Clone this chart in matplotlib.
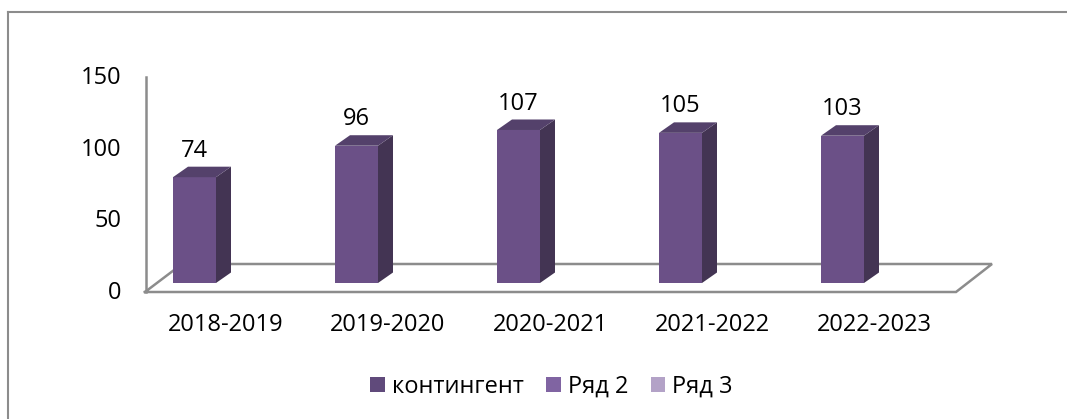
import matplotlib
matplotlib.use("Agg")
import matplotlib.pyplot as plt
from matplotlib.patches import Polygon, Patch
from matplotlib.lines import Line2D

# ---- data ----
categories = ["2018-2019", "2019-2020", "2020-2021", "2021-2022", "2022-2023"]
values = [74, 96, 107, 105, 103]
yticks = [0, 50, 100, 150]
legend_labels = ["контингент", "Ряд 2", "Ряд 3"]

# ---- style ----
FONT = ["Open Sans", "DejaVu Sans"]
FS = 17
front_c = "#6B5087"
side_c = "#433453"
top_c = "#54416B"
legend_colors = ["#604A7B", "#8064A2", "#B3A2C7"]
grid_c = "#8C8C8C"

W, H = 1067, 419
fig = plt.figure(figsize=(W / 100, H / 100), dpi=100)
ax = fig.add_axes([0, 0, 1, 1])

# pixel <-> data mapping (layout only)
X0, DX = 194.5, 162.0   # pixel x of category 0, pixels per category
Y0, SY = 283.0, 1.43    # pixel y of value 0, pixels per unit
ax.set_xlim((0 - X0) / DX, (W - X0) / DX)
ax.set_ylim((Y0 - H) / SY, (Y0 - 0) / SY)
ax.axis("off")

def px(p):
    return (p - X0) / DX

def pv(p):
    return (Y0 - p) / SY

half = 21.5 / DX
ddx = 15.0 / DX
ddy = 10.5 / SY

# floor
y_front, y_back = pv(292), pv(264)
floor = [(px(145), y_front), (px(956), y_front), (px(992), y_back), (px(182), y_back), (px(145), y_front)]
ax.plot([p[0] for p in floor], [p[1] for p in floor], color=grid_c, lw=1.8, zorder=1,
        solid_joinstyle="miter")
# vertical axis
ax.plot([px(146), px(146)], [y_front, pv(77)], color=grid_c, lw=1.8, zorder=1)

# bars
for i, v in enumerate(values):
    xl, xr = i - half, i + half
    ax.add_patch(Polygon([(xl, 0), (xr, 0), (xr, v), (xl, v)], closed=True,
                         facecolor=front_c, edgecolor="none", zorder=3))
    ax.add_patch(Polygon([(xr, 0), (xr + ddx, ddy), (xr + ddx, v + ddy), (xr, v)], closed=True,
                         facecolor=side_c, edgecolor="none", zorder=3))
    ax.add_patch(Polygon([(xl, v), (xr, v), (xr + ddx, v + ddy), (xl + ddx, v + ddy)], closed=True,
                         facecolor=top_c, edgecolor="none", zorder=3))
    ax.text(i, v + 18.5, str(v), ha="center", va="center", fontsize=FS, family=FONT, zorder=4)

# y tick labels
for t in yticks:
    ax.text(px(121), t * 1.433 / SY - 10 / SY, str(t), ha="right", va="center",
            fontsize=FS, family=FONT)

# category labels
for i, c in enumerate(categories):
    ax.text(i + 31.5 / DX, pv(325), c, ha="center", va="center", fontsize=FS, family=FONT)

# legend
handles = [Patch(facecolor=c, edgecolor="none") for c in legend_colors]
leg = fig.legend(handles, legend_labels, ncol=3, loc="center",
                 bbox_to_anchor=(551.5 / W, 1 - 387 / H), frameon=False,
                 prop={"family": FONT, "size": FS}, handlelength=0.62, handleheight=0.62,
                 handletextpad=0.3, columnspacing=0.95, borderpad=0)

# outer border (top & left visible)
fig.add_artist(Line2D([8 / W, 8 / W], [0, 1 - 12 / H], transform=fig.transFigure, color="#8C8C8C", lw=1.5))
fig.add_artist(Line2D([8 / W, 1], [1 - 12 / H, 1 - 12 / H], transform=fig.transFigure, color="#8C8C8C", lw=1.5))

fig.savefig("out.png", dpi=100)
